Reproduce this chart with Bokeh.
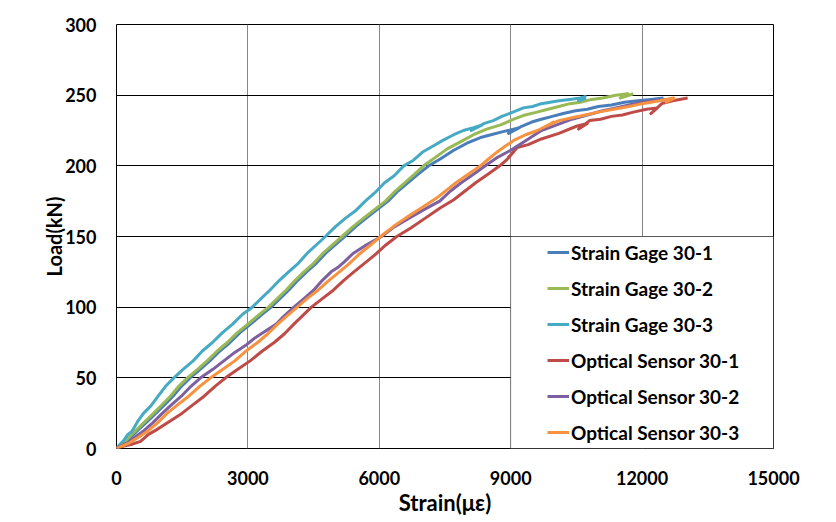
from bokeh.plotting import figure
from bokeh.models import Legend, LegendItem, BoxAnnotation, FixedTicker, Range1d
from bokeh.embed import file_html
from bokeh.resources import INLINE

# ---- data: (strain in micro-strain, load in kN) ----
x_ticks = [0, 3000, 6000, 9000, 12000, 15000]
y_ticks = [0, 50, 100, 150, 200, 250, 300]

strain_gage_30_1 = [(0,0),(110,3),(230,5),(360,9),(490,13),(700,19),(900,25),(1100,31),(1290,37),(1480,44),
    (1680,50),(1910,56),(2130,62),(2360,69),(2590,75),(2820,82),(3060,88),(3290,94),(3530,100),(3730,106),
    (3930,112),(4140,119),(4340,125),(4560,131),(4770,138),(4990,144),(5210,150),(5460,157),(5700,163),
    (5950,169),(6200,175),(6420,182),(6650,188),(6880,194),(7130,200),(7400,205),(7700,211),(8000,216),
    (8310,220),(8550,222),(8800,224),(9200,227),(8950,223),(9250,228),(9480,231),(9700,233),(9950,235),
    (10200,237),(10480,239),(10750,240),(11000,242),(11300,243),(11600,245),(11900,246),(12200,247),(12490,248)]

strain_gage_30_2 = [(0,0),(100,3),(200,5),(320,9),(450,13),(650,19),(850,25),(1040,31),(1230,37),(1420,44),
    (1620,50),(1850,56),(2070,62),(2300,69),(2530,75),(2760,82),(3000,88),(3230,94),(3470,100),(3670,106),
    (3870,112),(4080,119),(4280,125),(4500,131),(4710,138),(4930,144),(5150,150),(5400,157),(5640,163),
    (5890,169),(6140,175),(6360,182),(6580,188),(6800,194),(7010,200),(7280,206),(7550,212),(7850,217),
    (8150,222),(8450,226),(8770,229),(9070,233),(9330,236),(9600,238),(9850,240),(10100,242),(10350,244),
    (10590,245),(10850,247),(11100,248),(11400,250),(11670,251),(11500,248),(11800,251)]

strain_gage_30_3 = [(0,0),(80,3),(150,5),(260,10),(350,12),(480,19),(620,25),(780,30),(950,37),(1120,44),
    (1310,50),(1520,56),(1750,62),(1960,69),(2190,75),(2420,82),(2650,88),(2880,95),(3100,100),(3300,106),
    (3500,112),(3720,119),(3930,125),(4150,131),(4350,138),(4560,144),(4770,150),(5000,157),(5230,163),
    (5450,168),(5680,175),(5900,181),(6120,188),(6340,193),(6560,200),(6780,204),(7000,210),(7230,214),
    (7450,218),(7700,222),(7920,225),(8150,227),(8350,229),(8100,225),(8400,230),(8600,232),(8800,235),
    (9050,238),(9290,241),(9500,242),(9700,244),(9900,245),(10100,246),(10350,247),(10590,248),(10700,249),
    (10550,246),(10720,248)]

optical_sensor_30_1 = [(0,0),(200,2),(350,3),(550,5),(730,10),(900,13),(1200,19),(1500,25),(1750,31),(2000,37),
    (2250,44),(2490,50),(2770,56),(3050,62),(3330,69),(3600,75),(3830,81),(4050,88),(4250,94),(4450,100),
    (4700,106),(4950,112),(5190,119),(5420,125),(5660,131),(5900,137),(6150,144),(6400,150),(6720,156),
    (7050,163),(7380,170),(7700,176),(7950,182),(8200,188),(8480,194),(8750,200),(8900,204),(9070,210),
    (8950,206),(9150,213),(9400,215),(9700,219),(10100,223),(10500,228),(10750,230),(10550,226),(10800,232),
    (11050,233),(11300,235),(11550,236),(11800,238),(12100,240),(12350,241),(12200,237),(12450,244),
    (12700,246),(13040,248)]

optical_sensor_30_2 = [(0,0),(120,2),(250,4),(420,8),(600,12),(820,18),(1050,25),(1260,31),(1480,37),(1700,44),
    (1920,50),(2200,56),(2450,62),(2700,68),(2950,73),(3150,78),(3350,82),(3500,85),(3650,88),(3800,93),
    (4050,100),(4280,106),(4500,112),(4700,119),(4900,125),(5050,128),(5200,132),(5400,138),(5700,144),
    (6050,150),(6350,157),(6680,163),(7020,169),(7380,175),(7620,182),(7870,188),(8150,194),(8420,200),
    (8700,206),(9000,211),(9350,218),(9700,225),(10050,229),(10400,233),(10750,236),(11100,239),(11400,241),
    (11700,243),(12000,245),(12300,246),(12600,247)]

optical_sensor_30_3 = [(0,0),(150,2),(300,4),(500,8),(700,12),(930,18),(1160,25),(1400,31),(1650,37),(1900,44),
    (2150,50),(2430,56),(2700,62),(2960,69),(3220,75),(3450,81),(3680,88),(3900,94),(4125,100),(4350,106),
    (4600,112),(4850,119),(5090,125),(5320,131),(5560,138),(5800,144),(6030,150),(6320,157),(6600,163),
    (6950,170),(7300,177),(7750,188),(8030,194),(8310,200),(8500,205),(8700,210),(8880,214),(9070,218),
    (9340,222),(9610,225),(9800,228),(9980,231),(9800,228),(10100,232),(10400,234),(10700,236),(11000,238),
    (11350,240),(11700,242),(12000,244),(12400,246),(12720,248),(12550,245),(12750,248)]

series = [
    ("Strain Gage 30-1", strain_gage_30_1, "#4A7EBB"),
    ("Strain Gage 30-2", strain_gage_30_2, "#98B954"),
    ("Strain Gage 30-3", strain_gage_30_3, "#46AAC5"),
    ("Optical Sensor 30-1", optical_sensor_30_1, "#BE4B48"),
    ("Optical Sensor 30-2", optical_sensor_30_2, "#7D60A0"),
    ("Optical Sensor 30-3", optical_sensor_30_3, "#F69240"),
]

FONT = "Lato"

p = figure(width=820, height=520, output_backend="svg", toolbar_location=None,
           x_range=Range1d(x_ticks[0], x_ticks[-1]), y_range=Range1d(y_ticks[0], y_ticks[-1]),
           min_border_left=116, min_border_right=47, min_border_top=24, min_border_bottom=72)
p.background_fill_color = "white"
p.border_fill_color = "white"
p.outline_line_color = "black"
p.outline_line_width = 1

p.xaxis.ticker = FixedTicker(ticks=x_ticks)
p.yaxis.ticker = FixedTicker(ticks=y_ticks)
for ax in (p.xaxis[0], p.yaxis[0]):
    ax.axis_line_color = None
    ax.major_tick_line_color = None
    ax.minor_tick_line_color = None
    ax.major_label_text_font = FONT
    ax.major_label_text_font_style = "bold"
    ax.major_label_text_font_size = "18px"
    ax.major_label_text_color = "black"
    ax.axis_label_text_font = FONT
    ax.axis_label_text_font_style = "bold"
    ax.axis_label_text_color = "black"
p.xaxis.axis_label = "Strain(με)"
p.yaxis.axis_label = "Load(kN)"
p.xaxis.axis_label_text_font_size = "22px"
p.yaxis.axis_label_text_font_size = "20px"
p.xaxis.major_label_standoff = 16
p.yaxis.major_label_standoff = 14
p.xaxis.axis_label_standoff = 1
p.yaxis.axis_label_standoff = -4

p.xgrid.grid_line_color = "#868686"
p.xgrid.grid_line_width = 1
p.ygrid.grid_line_color = "black"
p.ygrid.grid_line_width = 1

items = []
for name, pts, col in series:
    xs = [pt[0] for pt in pts]
    ys = [pt[1] for pt in pts]
    r = p.line(xs, ys, line_color=col, line_width=3, line_join="round")
    items.append(LegendItem(label=name, renderers=[r]))

# legend frame: lower right block of the plot area
box = BoxAnnotation(left=x_ticks[3], right=x_ticks[-1], bottom=y_ticks[0], top=y_ticks[3],
                    fill_color="white", fill_alpha=1.0, line_color="black", line_width=1)
p.add_layout(box)

legend = Legend(items=items, location=(431, 4))
legend.padding = 0
legend.margin = 0
legend.border_line_alpha = 0
legend.background_fill_alpha = 0
legend.glyph_width = 22
legend.glyph_height = 24
legend.label_height = 24
legend.spacing = 12
legend.label_standoff = 2
legend.label_text_font = FONT
legend.label_text_font_style = "bold"
legend.label_text_font_size = "19px"
legend.label_text_color = "black"
p.add_layout(legend)

open("out.html", "w").write(file_html(p, INLINE))
